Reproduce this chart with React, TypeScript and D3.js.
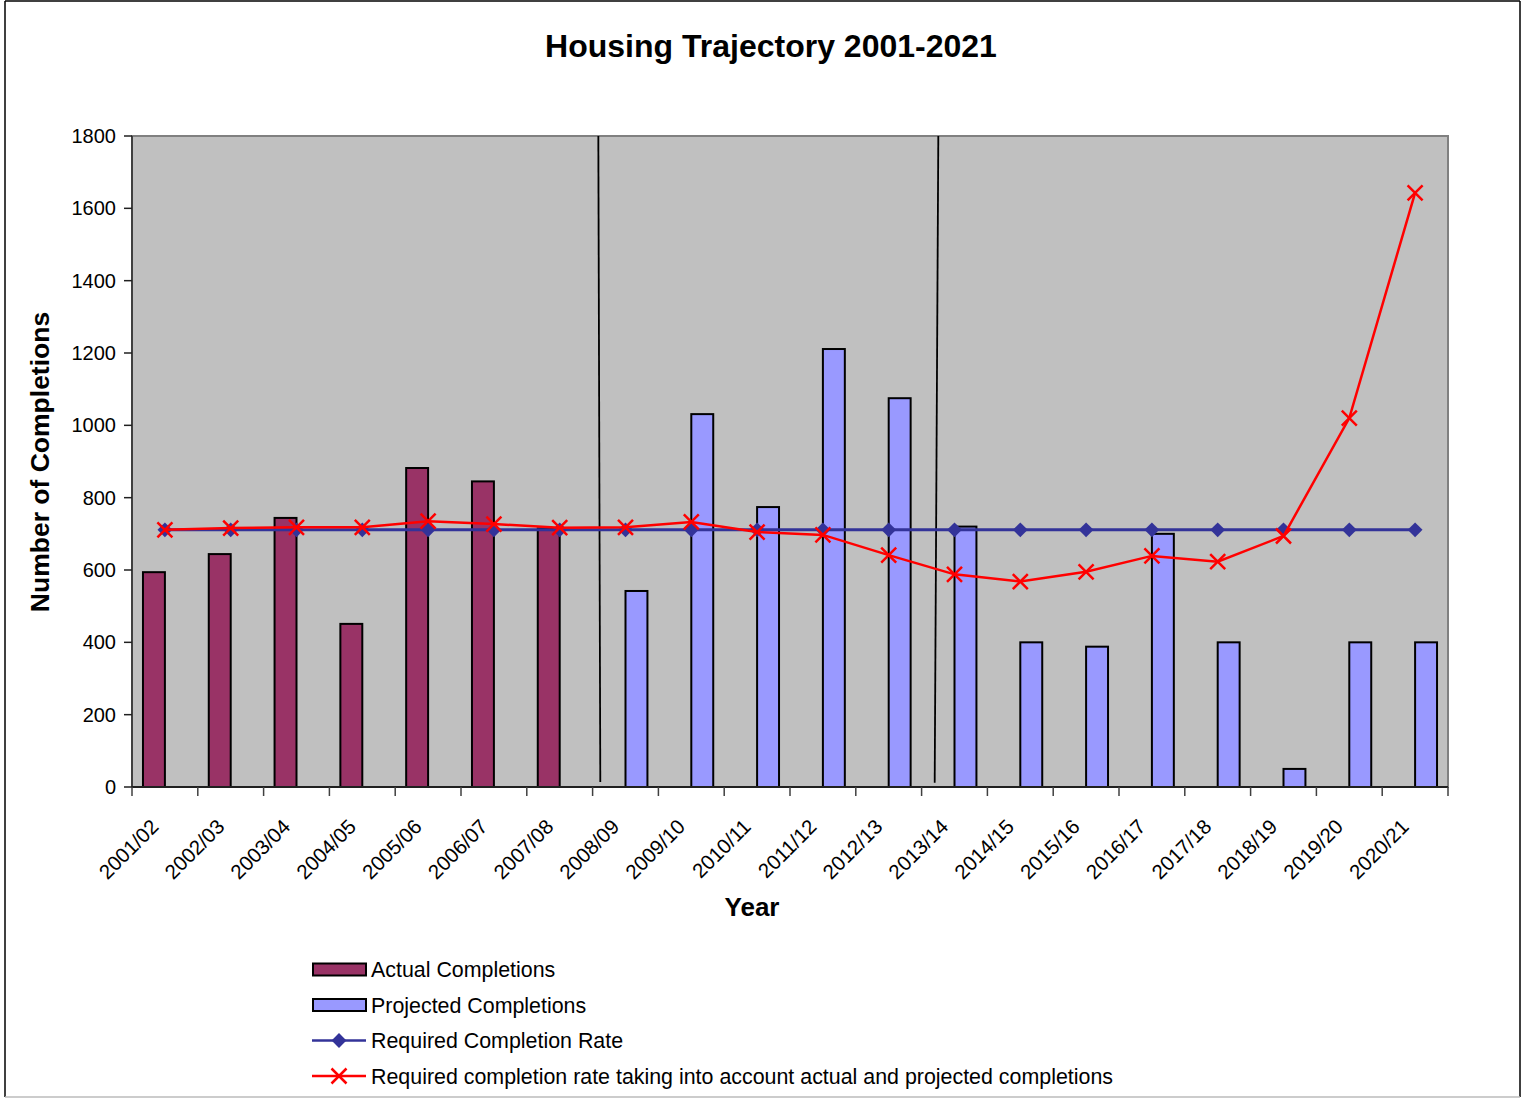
import * as d3 from "d3";
import React from "react";

const categories = [
  "2001/02", "2002/03", "2003/04", "2004/05", "2005/06", "2006/07", "2007/08",
  "2008/09", "2009/10", "2010/11", "2011/12", "2012/13", "2013/14", "2014/15",
  "2015/16", "2016/17", "2017/18", "2018/19", "2019/20", "2020/21",
];
const actualCompletions: (number | null)[] = [
  594, 644, 744, 451, 882, 845, 715,
  null, null, null, null, null, null, null, null, null, null, null, null, null,
];
const projectedCompletions: (number | null)[] = [
  null, null, null, null, null, null, null,
  542, 1031, 774, 1211, 1075, 720, 400, 388, 700, 400, 50, 400, 400,
];
const requiredRate = [
  711, 711, 711, 711, 711, 711, 711, 711, 711, 711,
  711, 711, 711, 711, 711, 711, 711, 711, 711, 711,
];
const adjustedRate = [
  711, 716, 718, 718, 735, 727, 717, 718, 733, 705,
  697, 641, 588, 568, 595, 639, 623, 694, 1020, 1643,
];
const yTicks = [0, 200, 400, 600, 800, 1000, 1200, 1400, 1600, 1800];
// hand-drawn divider lines, in category-index units (top / bottom) and values
const dividers = [
  { top: 7.087, bottom: 7.117, from: 1800, to: 14 },
  { top: 12.254, bottom: 12.199, from: 1800, to: 12 },
];
const legendItems = [
  { label: "Actual Completions", kind: "bar", color: "#993366" },
  { label: "Projected Completions", kind: "bar", color: "#9999FF" },
  { label: "Required Completion Rate", kind: "diamond", color: "#333399" },
  {
    label: "Required completion rate taking into account actual and projected completions",
    kind: "cross",
    color: "#FF0000",
  },
];

const W = 1521;
const H = 1099;
const M = { left: 132, right: 1448, top: 136, bottom: 787 };
const FONT = "'Liberation Sans', Arial, sans-serif";

const App: React.FC = () => {
  const x = d3.scaleBand<string>().domain(categories).range([M.left, M.right]).padding(0);
  const y = d3.scaleLinear().domain([0, 1800]).range([M.bottom, M.top]);
  const bw = x.bandwidth();
  const barW = bw / 3;
  const cx = (c: string) => (x(c) as number) + bw / 2;
  const xIdx = d3.scaleLinear().domain([0, categories.length]).range([M.left, M.right]);

  const line = d3
    .line<number>()
    .x((_, i) => cx(categories[i]))
    .y((d) => y(d));

  const diamond = d3.symbol(d3.symbolSquare, 110)();
  const cross = (s: number) => `M${-s},${-s}L${s},${s}M${-s},${s}L${s},${-s}`;

  const tickEdges = d3.range(categories.length + 1).map((i) => xIdx(i));

  return (
    <div style={{ position: "absolute", left: 0, top: 0 }}>
      <svg width={W} height={H} style={{ display: "block", background: "#fff" }}>
        {/* outer frame */}
        <line x1={5} y1={1} x2={5} y2={1097} stroke="#000" strokeWidth={1.5} />
        <line x1={5} y1={1} x2={1520} y2={1} stroke="#000" strokeWidth={1.5} />
        <line x1={1520} y1={1} x2={1520} y2={1097} stroke="#000" strokeWidth={1.5} />
        <line x1={5} y1={1097} x2={1520} y2={1097} stroke="#bbb" strokeWidth={1.5} />

        <text x={771} y={57} textAnchor="middle" fontFamily={FONT} fontWeight="bold" fontSize={32}>
          Housing Trajectory 2001-2021
        </text>

        {/* plot area */}
        <rect
          x={M.left}
          y={M.top}
          width={M.right - M.left}
          height={M.bottom - M.top}
          fill="#C0C0C0"
          stroke="#808080"
          strokeWidth={2}
        />

        {/* bars */}
        {categories.map((c, i) =>
          actualCompletions[i] == null ? null : (
            <rect
              key={"a" + c}
              x={cx(c) - barW}
              y={y(actualCompletions[i] as number)}
              width={barW}
              height={M.bottom - y(actualCompletions[i] as number)}
              fill="#993366"
              stroke="#000"
              strokeWidth={2}
            />
          )
        )}
        {categories.map((c, i) =>
          projectedCompletions[i] == null ? null : (
            <rect
              key={"p" + c}
              x={cx(c)}
              y={y(projectedCompletions[i] as number)}
              width={barW}
              height={M.bottom - y(projectedCompletions[i] as number)}
              fill="#9999FF"
              stroke="#000"
              strokeWidth={2}
            />
          )
        )}

        {/* dividers */}
        {dividers.map((d, i) => (
          <line
            key={"d" + i}
            x1={xIdx(d.top)}
            y1={y(d.from)}
            x2={xIdx(d.bottom)}
            y2={y(d.to)}
            stroke="#000"
            strokeWidth={1.8}
          />
        ))}

        {/* axes */}
        <line x1={M.left} y1={M.top} x2={M.left} y2={M.bottom} stroke="#404040" strokeWidth={2} />
        <line x1={M.left} y1={M.bottom} x2={M.right} y2={M.bottom} stroke="#202020" strokeWidth={2} />
        {yTicks.map((t) => (
          <g key={"yt" + t}>
            <line x1={M.left - 8} x2={M.left} y1={y(t)} y2={y(t)} stroke="#202020" strokeWidth={1.5} />
            <text
              x={M.left - 16}
              y={y(t)}
              dy="0.35em"
              textAnchor="end"
              fontFamily={FONT}
              fontSize={20}
            >
              {t}
            </text>
          </g>
        ))}
        {tickEdges.map((tx, i) => (
          <line key={"xt" + i} x1={tx} x2={tx} y1={M.bottom} y2={M.bottom + 9} stroke="#404040" strokeWidth={1.5} />
        ))}
        {categories.map((c) => (
          <text
            key={"xl" + c}
            transform={`translate(${cx(c) - 5},${M.bottom + 41}) rotate(-45)`}
            textAnchor="end"
            fontFamily={FONT}
            fontSize={20.5}
          >
            {c}
          </text>
        ))}

        {/* required rate line */}
        <path d={line(requiredRate) || ""} fill="none" stroke="#333399" strokeWidth={3} />
        {requiredRate.map((v, i) => (
          <path
            key={"dm" + i}
            d={diamond || ""}
            transform={`translate(${cx(categories[i])},${y(v)}) rotate(45)`}
            fill="#333399"
          />
        ))}

        {/* adjusted rate line */}
        <path d={line(adjustedRate) || ""} fill="none" stroke="#FF0000" strokeWidth={2.5} />
        {adjustedRate.map((v, i) => (
          <path
            key={"cx" + i}
            d={cross(7.5)}
            transform={`translate(${cx(categories[i])},${y(v)})`}
            fill="none"
            stroke="#FF0000"
            strokeWidth={2.5}
          />
        ))}

        {/* axis titles */}
        <text x={752} y={916} textAnchor="middle" fontFamily={FONT} fontWeight="bold" fontSize={26}>
          Year
        </text>
        <text
          transform="translate(49,462) rotate(-90)"
          textAnchor="middle"
          fontFamily={FONT}
          fontWeight="bold"
          fontSize={26.5}
        >
          Number of Completions
        </text>

        {/* legend */}
        {legendItems.map((item, i) => {
          const ly = 969.5 + i * 35.5;
          return (
            <g key={"lg" + i}>
              {item.kind === "bar" ? (
                <rect x={313} y={ly - 6} width={53} height={12} fill={item.color} stroke="#000" strokeWidth={2} />
              ) : (
                <>
                  <line x1={312} x2={366} y1={ly} y2={ly} stroke={item.color} strokeWidth={2.5} />
                  {item.kind === "diamond" ? (
                    <path d={diamond || ""} transform={`translate(339,${ly}) rotate(45)`} fill={item.color} />
                  ) : (
                    <path d={cross(7.5)} transform={`translate(339,${ly})`} stroke={item.color} strokeWidth={2.5} fill="none" />
                  )}
                </>
              )}
              <text x={371} y={ly} dy="0.36em" fontFamily={FONT} fontSize={21.4}>
                {item.label}
              </text>
            </g>
          );
        })}
      </svg>
    </div>
  );
};

export default App;
